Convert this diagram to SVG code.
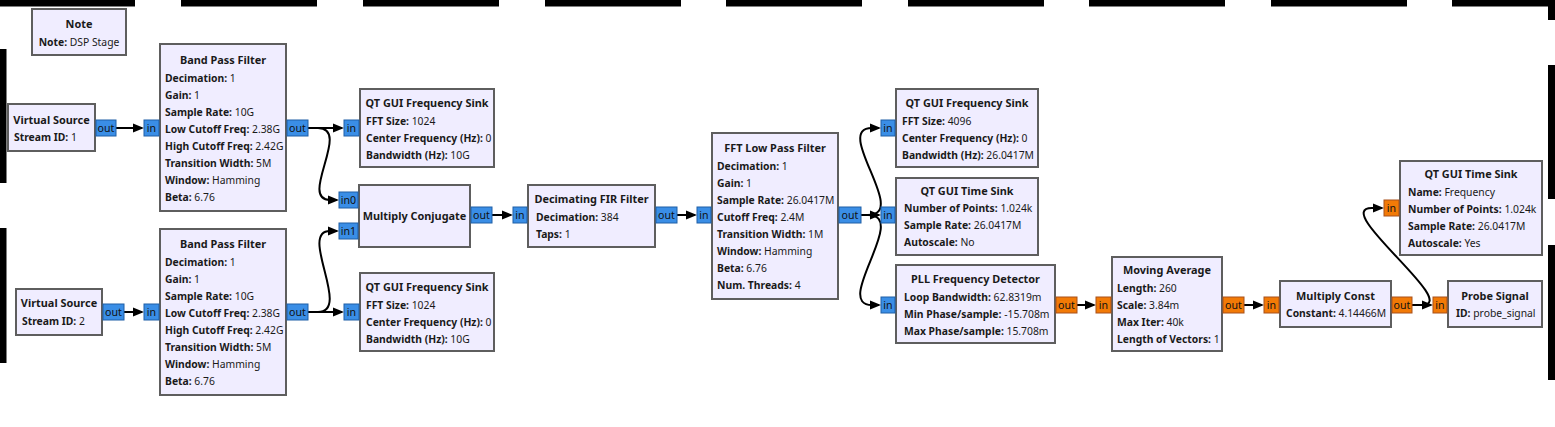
<svg xmlns="http://www.w3.org/2000/svg" width="1555" height="427" viewBox="0 0 1555 427">
<style>
.blk{fill:#f0edff;stroke:#5e5e5e;stroke-width:2}
.pc{fill:#3a8ee6;stroke:#1f5fa6;stroke-width:1}
.pf{fill:#f27a06;stroke:#a8511a;stroke-width:1}
text{font-family:"Noto Sans","Open Sans","DejaVu Sans",sans-serif;font-size:10.35px;fill:#1a1a1a}
.t{font-weight:bold;text-anchor:middle;font-size:10.9px}
.k{font-weight:bold}
.pt{text-anchor:middle;font-size:10.6px;fill:#111}
.c{fill:none;stroke:#000;stroke-width:2}
.fr{fill:#000}
</style>
<defs>
<marker id="arr" markerUnits="userSpaceOnUse" markerWidth="11" markerHeight="10" viewBox="0 0 11 10" refX="9" refY="5" orient="auto">
<path d="M0,0.5 L11,5 L0,9.5 z" fill="#000"/>
</marker>
</defs>
<rect width="1555" height="427" fill="#fff"/>
<g id="frame">
<rect class="fr" x="0" y="0" width="135" height="6.5"/>
<rect class="fr" x="181" y="0" width="136" height="6.5"/>
<rect class="fr" x="363" y="0" width="136" height="6.5"/>
<rect class="fr" x="545" y="0" width="136" height="6.5"/>
<rect class="fr" x="726" y="0" width="136" height="6.5"/>
<rect class="fr" x="908" y="0" width="136" height="6.5"/>
<rect class="fr" x="1089" y="0" width="136" height="6.5"/>
<rect class="fr" x="1271" y="0" width="136" height="6.5"/>
<rect class="fr" x="1452" y="0" width="103" height="6.5"/>
<rect class="fr" x="1548" y="0" width="7" height="20"/>
<rect class="fr" x="1548" y="65" width="7" height="134"/>
<rect class="fr" x="1548" y="245" width="7" height="135"/>
<rect class="fr" x="0" y="49" width="6.5" height="134"/>
<rect class="fr" x="0" y="228" width="6.5" height="135"/>
</g>
<g id="connectors">
<path class="c" d="M116,128 L142,128" marker-end="url(#arr)"/>
<path class="c" d="M308,128 L342,128" marker-end="url(#arr)"/>
<path class="c" d="M308,128 L318,128 C352,128 298,200 330,200 L337,200" marker-end="url(#arr)"/>
<path class="c" d="M124,312 L142,312" marker-end="url(#arr)"/>
<path class="c" d="M308,312 L342,312" marker-end="url(#arr)"/>
<path class="c" d="M308,312 L318,312 C352,312 298,231 330,231 L337,231" marker-end="url(#arr)"/>
<path class="c" d="M492,215 L511,215" marker-end="url(#arr)"/>
<path class="c" d="M677,215 L695,215" marker-end="url(#arr)"/>
<path class="c" d="M861,215 L879,215" marker-end="url(#arr)"/>
<path class="c" d="M861,215 L868,215 C910,215 832,128 872,128 L879,128" marker-end="url(#arr)"/>
<path class="c" d="M861,215 L868,215 C910,215 832,305 872,305 L879,305" marker-end="url(#arr)"/>
<path class="c" d="M1077,305 L1094,305" marker-end="url(#arr)"/>
<path class="c" d="M1244,305 L1262,305" marker-end="url(#arr)"/>
<path class="c" d="M1412,305 L1431,305" marker-end="url(#arr)"/>
<path class="c" d="M1412,305 L1422,305 C1462,305 1330,208 1372,208 L1382,208" marker-end="url(#arr)"/>
</g>
<g id="note">
<rect class="blk" x="32" y="9" width="94" height="46"/>
<text class="t" x="79" y="28">Note</text>
<text x="79" y="46" text-anchor="middle"><tspan class="k">Note:</tspan> DSP Stage</text>
</g>
<g id="virtual_source_1">
<rect class="blk" x="8" y="104" width="87" height="47"/>
<text class="t" x="51.5" y="124">Virtual Source</text>
<text x="14" y="141"><tspan class="k">Stream ID:</tspan> 1</text>
<rect class="pc" x="96" y="120" width="20" height="16"/><text class="pt" x="106" y="132">out</text>
</g>
<g id="virtual_source_2">
<rect class="blk" x="16" y="289" width="86" height="46"/>
<text class="t" x="59" y="307">Virtual Source</text>
<text x="22" y="325"><tspan class="k">Stream ID:</tspan> 2</text>
<rect class="pc" x="103" y="304" width="21" height="16"/><text class="pt" x="113.5" y="316">out</text>
</g>
<g id="band_pass_filter_1">
<rect class="blk" x="160" y="44" width="126" height="167"/>
<text class="t" x="223" y="64">Band Pass Filter</text>
<text x="165" y="82"><tspan class="k">Decimation:</tspan> 1</text>
<text x="165" y="99"><tspan class="k">Gain:</tspan> 1</text>
<text x="165" y="116"><tspan class="k">Sample Rate:</tspan> 10G</text>
<text x="165" y="133"><tspan class="k">Low Cutoff Freq:</tspan> 2.38G</text>
<text x="165" y="150"><tspan class="k">High Cutoff Freq:</tspan> 2.42G</text>
<text x="165" y="167"><tspan class="k">Transition Width:</tspan> 5M</text>
<text x="165" y="184"><tspan class="k">Window:</tspan> Hamming</text>
<text x="165" y="201"><tspan class="k">Beta:</tspan> 6.76</text>
<rect class="pc" x="144" y="120" width="15" height="16"/><text class="pt" x="151.5" y="132">in</text>
<rect class="pc" x="287" y="120" width="21" height="16"/><text class="pt" x="297.5" y="132">out</text>
</g>
<g id="band_pass_filter_2">
<rect class="blk" x="160" y="229" width="126" height="166"/>
<text class="t" x="223" y="248">Band Pass Filter</text>
<text x="165" y="266"><tspan class="k">Decimation:</tspan> 1</text>
<text x="165" y="283"><tspan class="k">Gain:</tspan> 1</text>
<text x="165" y="300"><tspan class="k">Sample Rate:</tspan> 10G</text>
<text x="165" y="317"><tspan class="k">Low Cutoff Freq:</tspan> 2.38G</text>
<text x="165" y="334"><tspan class="k">High Cutoff Freq:</tspan> 2.42G</text>
<text x="165" y="351"><tspan class="k">Transition Width:</tspan> 5M</text>
<text x="165" y="368"><tspan class="k">Window:</tspan> Hamming</text>
<text x="165" y="385"><tspan class="k">Beta:</tspan> 6.76</text>
<rect class="pc" x="144" y="304" width="15" height="16"/><text class="pt" x="151.5" y="316">in</text>
<rect class="pc" x="287" y="304" width="21" height="16"/><text class="pt" x="297.5" y="316">out</text>
</g>
<g id="qt_freq_sink_1">
<rect class="blk" x="360" y="89" width="134" height="78"/>
<text class="t" x="427" y="107">QT GUI Frequency Sink</text>
<text x="366" y="125"><tspan class="k">FFT Size:</tspan> 1024</text>
<text x="366" y="142"><tspan class="k">Center Frequency (Hz):</tspan> 0</text>
<text x="366" y="159"><tspan class="k">Bandwidth (Hz):</tspan> 10G</text>
<rect class="pc" x="344" y="120" width="15" height="16"/><text class="pt" x="351.5" y="132">in</text>
</g>
<g id="qt_freq_sink_3">
<rect class="blk" x="360" y="273" width="134" height="78"/>
<text class="t" x="427" y="291">QT GUI Frequency Sink</text>
<text x="366" y="309"><tspan class="k">FFT Size:</tspan> 1024</text>
<text x="366" y="326"><tspan class="k">Center Frequency (Hz):</tspan> 0</text>
<text x="366" y="343"><tspan class="k">Bandwidth (Hz):</tspan> 10G</text>
<rect class="pc" x="344" y="304" width="15" height="16"/><text class="pt" x="351.5" y="316">in</text>
</g>
<g id="multiply_conjugate">
<rect class="blk" x="359" y="185" width="111" height="62"/>
<text class="t" x="414.5" y="220">Multiply Conjugate</text>
<rect class="pc" x="339" y="192" width="19" height="16"/><text class="pt" x="348.5" y="204">in0</text>
<rect class="pc" x="339" y="223" width="19" height="16"/><text class="pt" x="348.5" y="235">in1</text>
<rect class="pc" x="471" y="207" width="21" height="16"/><text class="pt" x="481.5" y="219">out</text>
</g>
<g id="decimating_fir_filter">
<rect class="blk" x="528" y="185" width="127" height="62"/>
<text class="t" x="591.5" y="203">Decimating FIR Filter</text>
<text x="536" y="221"><tspan class="k">Decimation:</tspan> 384</text>
<text x="536" y="238"><tspan class="k">Taps:</tspan> 1</text>
<rect class="pc" x="513" y="207" width="14" height="16"/><text class="pt" x="520" y="219">in</text>
<rect class="pc" x="656" y="207" width="21" height="16"/><text class="pt" x="666.5" y="219">out</text>
</g>
<g id="fft_low_pass_filter">
<rect class="blk" x="712" y="133" width="126" height="166"/>
<text class="t" x="775" y="152">FFT Low Pass Filter</text>
<text x="717" y="170"><tspan class="k">Decimation:</tspan> 1</text>
<text x="717" y="187"><tspan class="k">Gain:</tspan> 1</text>
<text x="717" y="204"><tspan class="k">Sample Rate:</tspan> 26.0417M</text>
<text x="717" y="221"><tspan class="k">Cutoff Freq:</tspan> 2.4M</text>
<text x="717" y="238"><tspan class="k">Transition Width:</tspan> 1M</text>
<text x="717" y="255"><tspan class="k">Window:</tspan> Hamming</text>
<text x="717" y="272"><tspan class="k">Beta:</tspan> 6.76</text>
<text x="717" y="289"><tspan class="k">Num. Threads:</tspan> 4</text>
<rect class="pc" x="697" y="207" width="14" height="16"/><text class="pt" x="704" y="219">in</text>
<rect class="pc" x="839" y="207" width="22" height="16"/><text class="pt" x="850" y="219">out</text>
</g>
<g id="qt_freq_sink_2">
<rect class="blk" x="896" y="89" width="142" height="78"/>
<text class="t" x="967" y="107">QT GUI Frequency Sink</text>
<text x="902" y="125"><tspan class="k">FFT Size:</tspan> 4096</text>
<text x="902" y="142"><tspan class="k">Center Frequency (Hz):</tspan> 0</text>
<text x="902" y="159"><tspan class="k">Bandwidth (Hz):</tspan> 26.0417M</text>
<rect class="pc" x="881" y="120" width="14" height="16"/><text class="pt" x="888" y="132">in</text>
</g>
<g id="qt_time_sink_1">
<rect class="blk" x="896" y="178" width="142" height="77"/>
<text class="t" x="967" y="195">QT GUI Time Sink</text>
<text x="904" y="212"><tspan class="k">Number of Points:</tspan> 1.024k</text>
<text x="904" y="229"><tspan class="k">Sample Rate:</tspan> 26.0417M</text>
<text x="904" y="246"><tspan class="k">Autoscale:</tspan> No</text>
<rect class="pc" x="881" y="207" width="14" height="16"/><text class="pt" x="888" y="219">in</text>
</g>
<g id="pll_freq_detector">
<rect class="blk" x="896" y="265" width="159" height="78"/>
<text class="t" x="975.5" y="283">PLL Frequency Detector</text>
<text x="904" y="301"><tspan class="k">Loop Bandwidth:</tspan> 62.8319m</text>
<text x="904" y="318"><tspan class="k">Min Phase/sample:</tspan> -15.708m</text>
<text x="904" y="335"><tspan class="k">Max Phase/sample:</tspan> 15.708m</text>
<rect class="pc" x="881" y="297" width="14" height="16"/><text class="pt" x="888" y="309">in</text>
<rect class="pf" x="1056" y="297" width="21" height="16"/><text class="pt" x="1066.5" y="309">out</text>
</g>
<g id="moving_average">
<rect class="blk" x="1112" y="257" width="110" height="94"/>
<text class="t" x="1167" y="274">Moving Average</text>
<text x="1117" y="292"><tspan class="k">Length:</tspan> 260</text>
<text x="1117" y="309"><tspan class="k">Scale:</tspan> 3.84m</text>
<text x="1117" y="326"><tspan class="k">Max Iter:</tspan> 40k</text>
<text x="1117" y="343"><tspan class="k">Length of Vectors:</tspan> 1</text>
<rect class="pf" x="1096" y="297" width="15" height="16"/><text class="pt" x="1103.5" y="309">in</text>
<rect class="pf" x="1223" y="297" width="21" height="16"/><text class="pt" x="1233.5" y="309">out</text>
</g>
<g id="multiply_const">
<rect class="blk" x="1280" y="281" width="111" height="46"/>
<text class="t" x="1335.5" y="300">Multiply Const</text>
<text x="1286" y="317"><tspan class="k">Constant:</tspan> 4.14466M</text>
<rect class="pf" x="1264" y="297" width="15" height="16"/><text class="pt" x="1271.5" y="309">in</text>
<rect class="pf" x="1392" y="297" width="20" height="16"/><text class="pt" x="1402" y="309">out</text>
</g>
<g id="probe_signal">
<rect class="blk" x="1448" y="281" width="94" height="46"/>
<text class="t" x="1495" y="300">Probe Signal</text>
<text x="1456" y="317"><tspan class="k">ID:</tspan> probe_signal</text>
<rect class="pf" x="1433" y="297" width="14" height="16"/><text class="pt" x="1440" y="309">in</text>
</g>
<g id="qt_time_sink_2">
<rect class="blk" x="1400" y="161" width="142" height="94"/>
<text class="t" x="1471" y="178">QT GUI Time Sink</text>
<text x="1408" y="196"><tspan class="k">Name:</tspan> Frequency</text>
<text x="1408" y="213"><tspan class="k">Number of Points:</tspan> 1.024k</text>
<text x="1408" y="230"><tspan class="k">Sample Rate:</tspan> 26.0417M</text>
<text x="1408" y="247"><tspan class="k">Autoscale:</tspan> Yes</text>
<rect class="pf" x="1384" y="200" width="15" height="16"/><text class="pt" x="1391.5" y="212">in</text>
</g>
</svg>
